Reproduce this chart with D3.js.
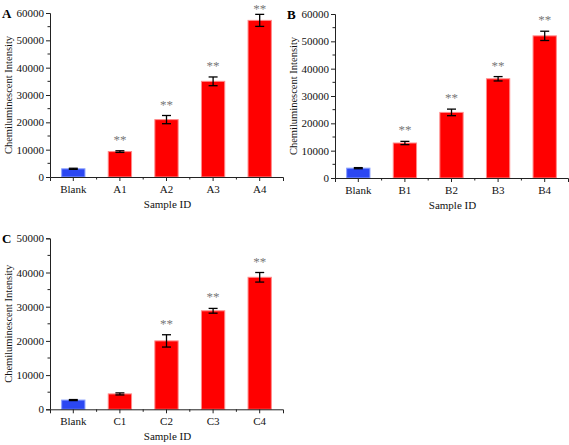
<!DOCTYPE html>
<html><head><meta charset="utf-8">
<script src="https://cdn.jsdelivr.net/npm/d3@7"></script>
<style>body{margin:0;background:#fff}svg{display:block}</style>
</head><body><svg id="c" width="569" height="445" font-family="'Liberation Serif', 'Times New Roman', Times, serif"></svg>
<script>
const catsA = ["Blank","A1","A2","A3","A4"];
const valsA = [3000, 9300, 21000, 35000, 57300];
const errA  = [200, 300, 1500, 1600, 2200];
const sigA  = [false, true, true, true, true];

const catsB = ["Blank","B1","B2","B3","B4"];
const valsB = [3600, 12800, 24000, 36300, 52000];
const errB  = [200, 600, 1200, 800, 1700];
const sigB  = [false, true, true, true, true];

const catsC = ["Blank","C1","C2","C3","C4"];
const valsC = [2700, 4500, 20000, 28800, 38600];
const errC  = [150, 300, 1800, 700, 1400];
const sigC  = [false, false, true, true, true];

const ticksAB = [0,10000,20000,30000,40000,50000,60000];
const ticksC = [0,10000,20000,30000,40000,50000];
const xTitle = "Sample ID", yTitle = "Chemiluminescent Intensity";
const FONT = "Liberation Serif";

const svg = d3.select("#c");

function panel(o){
  const g = svg.append("g");
  const x = d3.scaleBand().domain(o.cats).range([o.x0, o.x1]).paddingInner(0.5).paddingOuter(0.25);
  const y = d3.scaleLinear().domain([0, o.max]).range([o.y1, o.y0]);
  const minor = d3.range(5000, o.max, 10000);
  g.selectAll(".my").data(minor).join("line")
    .attr("x1", o.x0-2.5).attr("x2", o.x0).attr("y1", d=>y(d)).attr("y2", d=>y(d))
    .attr("stroke","#222").attr("stroke-width",1);
  const ya = g.append("g").attr("transform",`translate(${o.x0},0)`)
    .call(d3.axisLeft(y).tickValues(o.ticks).tickFormat(d3.format("d")).tickSizeOuter(0).tickSize(4).tickPadding(2));
  ya.attr("font-family",FONT);
  ya.select(".domain").attr("stroke","#222");
  ya.selectAll(".tick line").attr("stroke","#222");
  ya.selectAll("text").attr("font-size",11).attr("fill","#111");
  g.selectAll(".bar").data(o.vals).join("rect")
    .attr("x",(d,i)=>x(o.cats[i])).attr("width",x.bandwidth())
    .attr("y",d=>y(d)).attr("height",d=>o.y1-y(d))
    .attr("fill",(d,i)=>i===0?"#2b47f2":"#ff0000")
    .attr("stroke",(d,i)=>i===0?"#8aa0ff":"#ff8a8a").attr("stroke-width",1);
  const cx = i => x(o.cats[i]) + x.bandwidth()/2;
  const eg = g.selectAll(".err").data(o.vals).join("g");
  eg.append("line").attr("x1",(d,i)=>cx(i)).attr("x2",(d,i)=>cx(i))
    .attr("y1",(d,i)=>y(d+o.err[i])).attr("y2",(d,i)=>y(d-o.err[i])).attr("stroke","#000").attr("stroke-width",1.3);
  ["+","-"].forEach(s=>{
    eg.append("line").attr("x1",(d,i)=>cx(i)-4.5).attr("x2",(d,i)=>cx(i)+4.5)
      .attr("y1",(d,i)=>y(s==="+"?d+o.err[i]:d-o.err[i])).attr("y2",(d,i)=>y(s==="+"?d+o.err[i]:d-o.err[i]))
      .attr("stroke","#000").attr("stroke-width",1.3);
  });
  const idx = d3.range(o.vals.length).filter(i=>o.sig[i]);
  g.selectAll(".star").data(idx).join("text")
    .attr("x",i=>cx(i)).attr("y",i=>Math.max(13, y(o.vals[i]+o.err[i])-7))
    .attr("text-anchor","middle").attr("font-size",13).attr("fill","#777").text("**");
  const xa = g.append("g").attr("transform",`translate(0,${o.y1})`)
    .call(d3.axisBottom(x).tickSizeOuter(0).tickSize(4).tickPadding(4));
  xa.attr("font-family",FONT);
  xa.select(".domain").attr("stroke","#222");
  xa.selectAll(".tick line").attr("stroke","#222");
  xa.selectAll("text").attr("font-size",11).attr("fill","#111");
  const step = x.step();
  const bounds = o.cats.slice(0,-1).map(c=>x(c)+x.bandwidth()/2+step/2);
  g.selectAll(".mx").data(bounds).join("line")
    .attr("x1",d=>d).attr("x2",d=>d).attr("y1",o.y1).attr("y2",o.y1+2.5)
    .attr("stroke","#222");
  g.append("text").attr("x",(o.x0+o.x1)/2+1).attr("y",o.y1+31).attr("text-anchor","middle")
    .attr("font-size",11).attr("fill","#111").text(xTitle);
  g.append("text").attr("transform",`translate(${o.x0-38},${(o.y0+o.y1)/2}) rotate(-90)`)
    .attr("text-anchor","middle").attr("font-size",10.5).attr("fill","#111").text(yTitle);
  g.append("text").attr("x",o.lx).attr("y",o.ly).attr("font-size",13).attr("font-weight","bold").attr("fill","#000").text(o.label);
}

panel({cats:catsA, vals:valsA, err:errA, sig:sigA, ticks:ticksAB, max:60000, x0:50, x1:283, y0:13, y1:177, label:"A", lx:2, ly:18});
panel({cats:catsB, vals:valsB, err:errB, sig:sigB, ticks:ticksAB, max:60000, x0:335, x1:568, y0:14, y1:178, label:"B", lx:287, ly:19});
panel({cats:catsC, vals:valsC, err:errC, sig:sigC, ticks:ticksC, max:50000, x0:50, x1:283, y0:238.3, y1:409.3, label:"C", lx:2, ly:243});
</script></body></html>
